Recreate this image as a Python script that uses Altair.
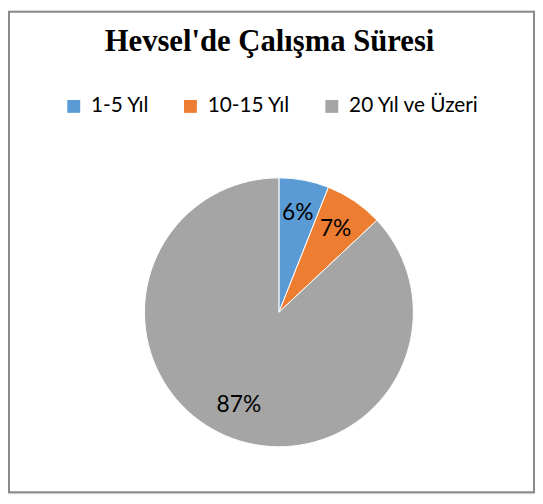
import altair as alt
import pandas as pd

categories = ["1-5 Yıl", "10-15 Yıl", "20 Yıl ve Üzeri"]
values = [6, 7, 87]
labels = ["6%", "7%", "87%"]
colors = ["#5B9BD5", "#ED7D31", "#A5A5A5"]

df = pd.DataFrame({"cat": categories, "val": values, "lab": labels, "ord": [0, 1, 2]})

cx, cy = 274, 305
W, H = 533, 488

base = alt.Chart(df).encode(
    theta=alt.Theta("val:Q", stack=True),
    order=alt.Order("ord:Q"),
)

border = alt.Chart(pd.DataFrame({"a": [0]})).mark_rect(
    fill="transparent", stroke="#8a8a8a", strokeWidth=2
).encode(
    x=alt.value(1), x2=alt.value(W - 1), y=alt.value(1), y2=alt.value(H - 1)
)

pie = base.mark_arc(radius=136, stroke="white", strokeWidth=1).encode(
    x=alt.value(cx),
    y=alt.value(cy),
    color=alt.Color(
        "cat:N",
        scale=alt.Scale(domain=categories, range=colors),
        sort=categories,
        legend=alt.Legend(
            title=None,
            orient="none",
            legendX=56,
            legendY=86,
            direction="horizontal",
            symbolType="square",
            symbolSize=170,
            symbolStrokeWidth=0,
            labelFont="Lato",
            labelFontSize=21,
            labelColor="#000000",
            labelOffset=7,
            columnPadding=31,
        ),
    ),
)

text = base.mark_text(radius=102, font="Lato", fontSize=23, color="#000000").encode(
    x=alt.value(cx),
    y=alt.value(cy),
    text="lab:N",
)

chart = (
    alt.layer(border, pie, text)
    .properties(
        width=W,
        height=H,
        autosize=alt.AutoSizeParams(type="none"),
        padding=0,
        title=alt.TitleParams(
            "Hevsel'de Çalışma Süresi",
            font="Liberation Serif",
            fontSize=31,
            fontWeight="bold",
            color="#000000",
            anchor="middle",
            offset=-48,
            dx=-2,
        ),
    )
    .configure_view(stroke="transparent")
    .configure(background="white")
)

chart.save("out.html", embed_options={"renderer": "svg", "actions": False})
